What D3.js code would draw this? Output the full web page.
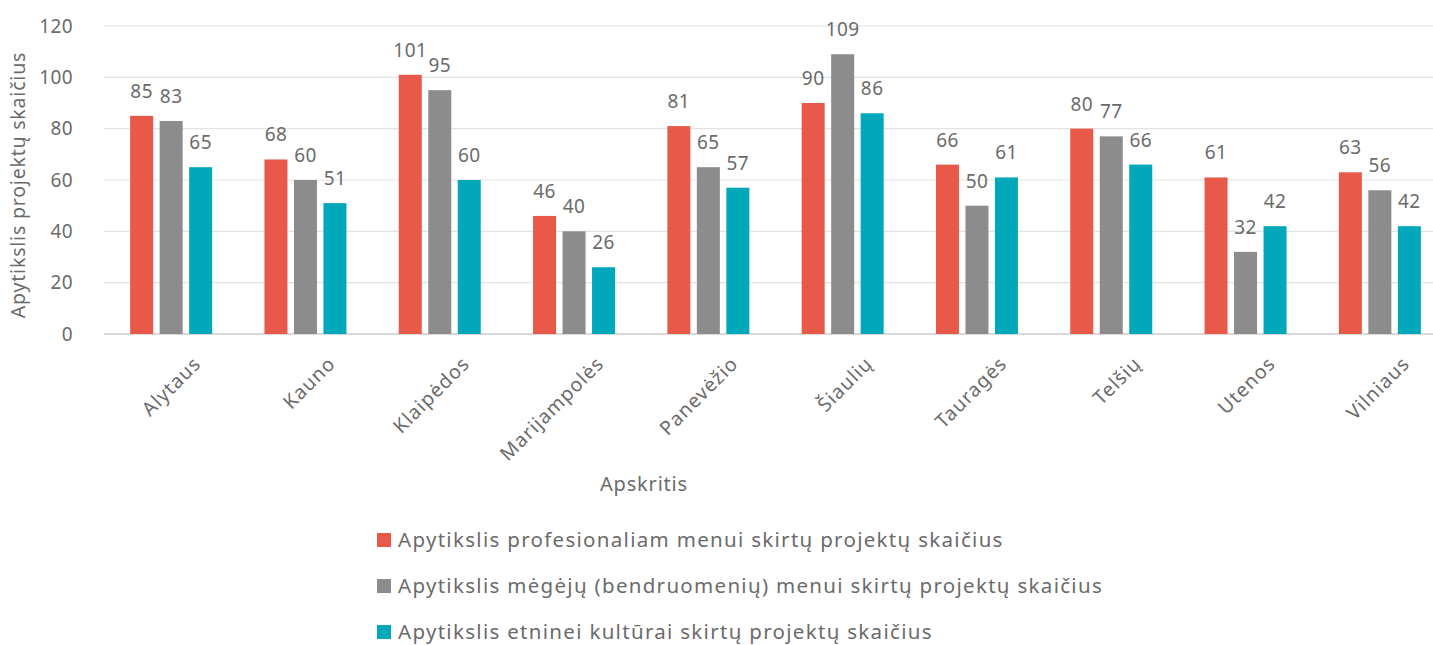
<!DOCTYPE html>
<html><head><meta charset="utf-8">
<script src="https://cdn.jsdelivr.net/npm/d3@7"></script>
<style>
body{margin:0;background:#fff;}
svg text{font-family:"Noto Sans",sans-serif;fill:#6b6b6b;}
</style></head>
<body><svg id="c" width="1433" height="645"></svg>
<script>
const categories=["Alytaus","Kauno","Klaipėdos","Marijampolės","Panevėžio","Šiaulių","Tauragės","Telšių","Utenos","Vilniaus"];
const seriesNames=["Apytikslis profesionaliam menui skirtų projektų skaičius","Apytikslis mėgėjų (bendruomenių) menui skirtų projektų skaičius","Apytikslis etninei kultūrai skirtų projektų skaičius"];
const profesionalus=[85,68,101,46,81,90,66,80,61,63];
const megeju=[83,60,95,40,65,109,50,77,32,56];
const etnine=[65,51,60,26,57,86,61,66,42,42];
const yTicks=[0,20,40,60,80,100,120];
const colors=["#E8594A","#8C8C8C","#00A8BA"];
const series=[profesionalus,megeju,etnine];

const svg=d3.select("#c");
const mLeft=104,mRight=1447,mTop=26,mBottom=334;
const x=d3.scaleBand().domain(categories).range([mLeft,mRight]).paddingInner(0).paddingOuter(0);
const y=d3.scaleLinear().domain([0,120]).range([mBottom,mTop]);
const groupW=82;
const x1=d3.scaleBand().domain([0,1,2]).range([0,groupW]).paddingInner(0.22);

// grid
svg.append("g").selectAll("line").data(yTicks).join("line")
 .attr("x1",mLeft).attr("x2",mRight).attr("y1",d=>y(d)).attr("y2",d=>y(d))
 .attr("stroke",d=>d===0?"#d9d9d9":"#e3e3e3").attr("stroke-width",d=>d===0?2:1.2);

// y tick labels
svg.append("g").selectAll("text").data(yTicks).join("text")
 .attr("x",73).attr("y",d=>y(d)).attr("dy","0.35em").attr("text-anchor","end")
 .attr("font-size",19).attr("letter-spacing",0.4).text(d=>d);

// bars
const groups=svg.append("g").selectAll("g").data(categories).join("g")
 .attr("transform",d=>`translate(${x(d)+x.bandwidth()/2-groupW/2},0)`);
groups.each(function(cat,i){
  const g=d3.select(this);
  series.forEach((s,k)=>{
    g.append("rect").attr("x",x1(k)).attr("width",x1.bandwidth())
     .attr("y",y(s[i])).attr("height",y(0)-y(s[i])).attr("fill",colors[k]);
    g.append("text").attr("x",x1(k)+x1.bandwidth()/2).attr("y",y(s[i])-18)
     .attr("text-anchor","middle").attr("font-size",19).attr("letter-spacing",0.4).text(s[i]);
  });
});

// category labels
svg.append("g").selectAll("text").data(categories).join("text")
 .attr("transform",d=>`translate(${x(d)+x.bandwidth()/2+31},${365}) rotate(-45)`)
 .attr("text-anchor","end").attr("font-size",19.5).attr("letter-spacing",1).text(d=>d);

// axis titles
svg.append("text").attr("transform",`translate(25,185) rotate(-90)`)
 .attr("text-anchor","middle").attr("font-size",19.5).attr("letter-spacing",0.8).text("Apytikslis projektų skaičius");
svg.append("text").attr("x",644).attr("y",491).attr("text-anchor","middle")
 .attr("font-size",20).attr("letter-spacing",0.8).text("Apskritis");

// legend
const leg=svg.append("g").selectAll("g").data(seriesNames).join("g")
 .attr("transform",(d,i)=>`translate(377,${540+i*46})`);
leg.append("rect").attr("x",0).attr("y",-7).attr("width",14).attr("height",14).attr("fill",(d,i)=>colors[i]);
leg.append("text").attr("x",21).attr("y",0).attr("dy","0.35em").attr("font-size",20.5).attr("letter-spacing",1.3).text(d=>d);
</script></body></html>
